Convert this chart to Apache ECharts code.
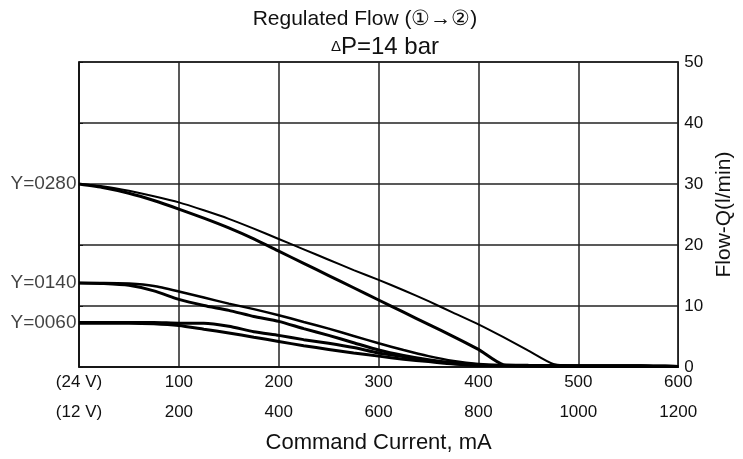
<!DOCTYPE html>
<html>
<head>
<meta charset="utf-8">
<script src="https://cdn.jsdelivr.net/npm/echarts@6/dist/echarts.min.js"></script>
<style>
  html, body { margin: 0; padding: 0; background: #fff; }
  #chart { width: 743px; height: 459px; }
</style>
</head>
<body>
<div id="chart"></div>
<script>
// command current (24 V), mA
var current = [0, 25, 50, 75, 100, 125, 150, 175, 200, 225, 250, 275, 300,
  325, 350, 375, 400, 425, 450, 475, 500, 525, 550, 575, 600];

// flow, l/min
var y0280Up = [30, 29.6, 28.9, 28.0, 27.0, 25.7, 24.3, 22.7, 21.0, 19.3, 17.6, 15.9, 14.3,
  12.6, 10.8, 8.9, 7.0, 4.9, 2.7, 0.5, 0.2, 0.2, 0.2, 0.15, 0.1];
var y0280Down = [30, 29.4, 28.5, 27.3, 25.9, 24.4, 22.8, 21.0, 19.0, 17.0, 15.0, 13.0, 11.0,
  9.0, 7.0, 5.0, 2.9, 0.4, 0.3, 0.25, 0.2, 0.2, 0.2, 0.15, 0.1];
var y0140Up = [13.8, 13.8, 13.7, 13.3, 12.4, 11.4, 10.4, 9.5, 8.5, 7.4, 6.3, 5.1, 3.9,
  2.8, 1.8, 1.0, 0.5, 0.3, 0.25, 0.2, 0.2, 0.2, 0.2, 0.15, 0.1];
var y0140Down = [13.8, 13.7, 13.4, 12.5, 11.1, 10.1, 9.3, 8.3, 7.5, 6.3, 5.2, 4.0, 2.8,
  1.9, 1.2, 0.7, 0.4, 0.3, 0.25, 0.2, 0.2, 0.2, 0.2, 0.15, 0.1];
var y0060Up = [7.3, 7.3, 7.3, 7.3, 7.2, 7.2, 6.7, 5.8, 5.2, 4.5, 3.9, 3.2, 2.3,
  1.7, 1.1, 0.6, 0.3, 0.25, 0.2, 0.2, 0.2, 0.2, 0.2, 0.15, 0.1];
var y0060Down = [7.2, 7.2, 7.2, 7.1, 6.8, 6.2, 5.6, 4.9, 4.2, 3.5, 2.9, 2.3, 1.8,
  1.3, 0.9, 0.5, 0.3, 0.25, 0.2, 0.2, 0.2, 0.2, 0.2, 0.15, 0.1];

// curve names on the left
var curveNames = ["Y=0280", "Y=0140", "Y=0060"];
var curveStart = [30, 13.8, 7.2];

// x tick labels, two rows
var ticks24 = ["(24 V)", "100", "200", "300", "400", "500", "600"];
var ticks12 = ["(12 V)", "200", "400", "600", "800", "1000", "1200"];

var FONT = "Liberation Sans";

function pairs(ys) {
  return current.map(function (x, i) { return [x, ys[i]]; });
}

function curve(ys, width) {
  return {
    type: "line",
    data: pairs(ys),
    showSymbol: false,
    smooth: 0.2,
    lineStyle: { color: "#000", width: width },
    z: 3
  };
}

var chart = echarts.init(document.getElementById("chart"));

chart.setOption({
  animation: false,
  textStyle: { fontFamily: FONT },
  title: [{
    text: "Regulated Flow (①→②)",
    left: 360,
    top: 4,
    textAlign: "center",
    textStyle: { fontFamily: FONT, fontSize: 21, fontWeight: "normal", color: "#111" }
  }, {
    text: "{s|Δ}P=14 bar",
    left: 380,
    top: 30,
    textAlign: "center",
    textStyle: {
      fontFamily: FONT, fontSize: 24, fontWeight: "normal", color: "#111",
      rich: { s: { fontSize: 15, fontFamily: FONT, color: "#111" } }
    }
  }],
  grid: {
    left: 79,
    right: 60,
    top: 62,
    bottom: 90,
    show: true,
    borderColor: "#111",
    borderWidth: 1.5
  },
  xAxis: {
    type: "value",
    min: 0,
    max: 600,
    interval: 100,
    axisLine: { show: true, lineStyle: { color: "#111", width: 1.5 } },
    axisTick: { show: false },
    splitLine: { show: true, lineStyle: { color: "#222", width: 1.5 } },
    axisLabel: {
      margin: 0,
      fontSize: 17,
      lineHeight: 30,
      color: "#111",
      formatter: function (v) {
        var i = Math.round(v / 100);
        return ticks24[i] + "\n" + ticks12[i];
      }
    },
    name: "Command Current, mA",
    nameLocation: "middle",
    nameGap: 62,
    nameTextStyle: { fontSize: 22, color: "#111" }
  },
  yAxis: {
    type: "value",
    position: "right",
    min: 0,
    max: 50,
    interval: 10,
    axisLine: { show: true, lineStyle: { color: "#111", width: 1.5 } },
    axisTick: { show: true, length: 4, lineStyle: { color: "#111" } },
    splitLine: { show: true, lineStyle: { color: "#222", width: 1.5 } },
    axisLabel: { margin: 6, fontSize: 17, color: "#111" },
    name: "Flow-Q(l/min)",
    nameLocation: "middle",
    nameRotate: 90,
    nameGap: 32,
    nameTextStyle: { fontSize: 21, color: "#111" }
  },
  series: [
    curve(y0280Up, 2),
    curve(y0280Down, 3),
    curve(y0140Up, 2.5),
    curve(y0140Down, 3),
    curve(y0060Up, 3),
    curve(y0060Down, 3),
    {
      type: "scatter",
      symbolSize: 1,
      itemStyle: { color: "transparent" },
      data: curveNames.map(function (n, i) { return { name: n, value: [0, curveStart[i]] }; }),
      label: {
        show: true,
        position: "left",
        distance: 2,
        formatter: "{b}",
        fontFamily: FONT,
        fontSize: 19,
        color: "#111"
      }
    }
  ]
});
</script>
</body>
</html>
